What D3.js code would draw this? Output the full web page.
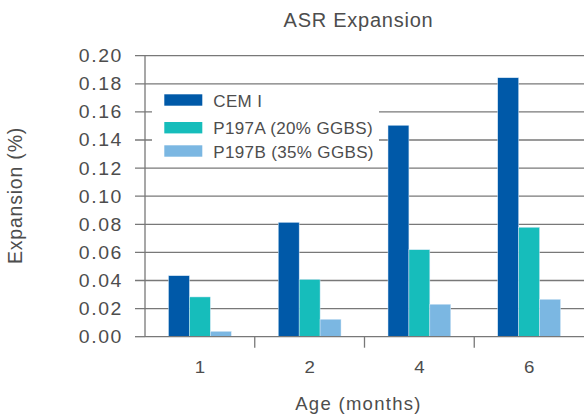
<!DOCTYPE html>
<html>
<head>
<meta charset="utf-8">
<script src="https://cdn.jsdelivr.net/npm/d3@7"></script>
<style>
  html, body { margin: 0; padding: 0; background: #fff; }
  svg text { font-family: "Liberation Sans", Arial, Helvetica, sans-serif; fill: #4d4d4d; }
</style>
</head>
<body>
<svg id="chart" width="584" height="416"></svg>
<script>
const categories = ["1", "2", "4", "6"];
const seriesNames = ["CEM I", "P197A (20% GGBS)", "P197B (35% GGBS)"];
const cemI = [0.0434, 0.0814, 0.1505, 0.1843];
const p197A = [0.0283, 0.0408, 0.0619, 0.0779];
const p197B = [0.0038, 0.0124, 0.0231, 0.0266];
const yTicks = [0.00, 0.02, 0.04, 0.06, 0.08, 0.10, 0.12, 0.14, 0.16, 0.18, 0.20];
const colors = ["#0059a8", "#16bdbb", "#7bb7e2"];

(function () {
const seriesValues = [cemI, p197A, p197B];
const rows = categories.map((c, i) => ({ cat: c, vals: seriesValues.map(s => s[i]) }));

const svg = d3.select("#chart");
const pLeft = 145, pRight = 584, pTop = 55.7, pBottom = 336.7;

const x0 = d3.scaleBand().domain(categories).range([pLeft, pRight]).padding(0);
const x1 = d3.scaleBand().domain(d3.range(seriesNames.length))
  .range([23.5, x0.bandwidth() - 23.5]).padding(0);
const y = d3.scaleLinear().domain([0, 0.20]).range([pBottom, pTop]);

// gridlines + y tick marks
svg.append("g").selectAll("line").data(yTicks.filter(t => t > 0)).join("line")
  .attr("x1", pLeft - 10).attr("x2", pRight)
  .attr("y1", d => y(d)).attr("y2", d => y(d))
  .attr("stroke", "#787878").attr("stroke-width", 1.3);
svg.append("line").attr("x1", pLeft - 10).attr("x2", pLeft)
  .attr("y1", y(0)).attr("y2", y(0)).attr("stroke", "#787878").attr("stroke-width", 1.3);

// y axis line
svg.append("line").attr("x1", pLeft).attr("x2", pLeft).attr("y1", y(0.20)).attr("y2", y(0))
  .attr("stroke", "#787878").attr("stroke-width", 1.3);

// y tick labels
svg.append("g").selectAll("text").data(yTicks).join("text")
  .attr("transform", d => `translate(123,${y(d)}) scale(1.08,1)`)
  .attr("dy", "0.36em")
  .attr("text-anchor", "end").style("font-size", "18px").style("letter-spacing", "1.5px")
  .text(d => d.toFixed(2));

// legend background
svg.append("rect").attr("x", 152).attr("y", 88).attr("width", 227).attr("height", 76).attr("fill", "#fff");

// bars
const groups = svg.append("g").selectAll("g").data(rows).join("g")
  .attr("transform", d => `translate(${x0(d.cat)},0)`);
groups.selectAll("rect").data(d => d.vals.map((v, i) => ({ v, i }))).join("rect")
  .attr("x", d => x1(d.i)).attr("width", x1.bandwidth())
  .attr("y", d => y(d.v)).attr("height", d => y(0) - y(d.v))
  .attr("fill", d => colors[d.i])
  .attr("stroke", "#d6e8f6").attr("stroke-width", 0.5);

// x axis baseline
svg.append("line").attr("x1", pLeft).attr("x2", pRight).attr("y1", y(0)).attr("y2", y(0))
  .attr("stroke", "#787878").attr("stroke-width", 1.3);
// x ticks between categories
svg.append("g").selectAll("line").data(categories.slice(1)).join("line")
  .attr("x1", d => x0(d)).attr("x2", d => x0(d))
  .attr("y1", y(0)).attr("y2", y(0) + 11)
  .attr("stroke", "#787878").attr("stroke-width", 1.3);
// x tick labels
svg.append("g").selectAll("text").data(categories).join("text")
  .attr("transform", d => `translate(${x0(d) + x0.bandwidth() / 2},372.5) scale(1.1,1)`)
  .attr("text-anchor", "middle").style("font-size", "17px")
  .text(d => d);

// legend
const legendY = [94.3, 122, 145.3];
const lg = svg.append("g").selectAll("g").data(seriesNames).join("g")
  .attr("transform", (d, i) => `translate(164.3,${legendY[i]})`);
lg.append("rect").attr("width", 38).attr("height", 11.4).attr("fill", (d, i) => colors[i]);
lg.append("text").attr("x", 49).attr("y", 12.3).style("font-size", "17px")
  .style("letter-spacing", "0.35px").text(d => d);

// title
svg.append("text").attr("x", 358.5).attr("y", 27.3).attr("text-anchor", "middle")
  .style("font-size", "20px").style("letter-spacing", "0.75px").text("ASR Expansion");

// x axis title
svg.append("text").attr("x", 358.5).attr("y", 410).attr("text-anchor", "middle")
  .style("font-size", "18.5px").style("letter-spacing", "1.3px").text("Age (months)");

// y axis title
svg.append("text").attr("transform", "translate(22,195.5) rotate(-90)")
  .attr("text-anchor", "middle").style("font-size", "19.5px").style("letter-spacing", "0.8px")
  .text("Expansion (%)");
})();
</script>
</body>
</html>
